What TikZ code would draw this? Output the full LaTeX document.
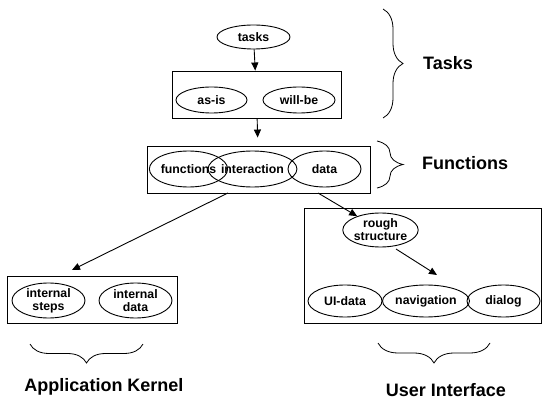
\documentclass[tikz,border=0pt]{standalone}
\usepackage{fontspec}
\setmainfont{Liberation Sans}
\usetikzlibrary{shapes.geometric,arrows.meta,decorations.pathreplacing}
\begin{document}
\begin{tikzpicture}[x=1pt,y=-1pt,
  every node/.style={font=\bfseries\fontsize{12.3}{13}\selectfont},
  ell/.style={draw,ellipse,inner sep=0pt,line width=0.9pt,align=center},
  boxx/.style={draw,rectangle,inner sep=0pt,line width=0.9pt},
  arr/.style={-{Triangle[length=8pt,width=7pt]},line width=0.9pt},
  brc/.style={decorate,line width=0.8pt},
  big/.style={font=\bfseries\fontsize{18}{21}\selectfont}
]
\useasboundingbox (0,0) rectangle (544,401);
% boxes
\node[boxx,minimum width=169pt,minimum height=47pt] (box1) at (256.5,94.5) {};
\node[boxx,minimum width=223pt,minimum height=47pt] (box2) at (258.5,169.5) {};
\node[boxx,minimum width=170pt,minimum height=47pt] (box3) at (92,299.5) {};
\node[boxx,minimum width=237pt,minimum height=115pt] (box4) at (422.5,265.5) {};
% ellipses
\node[ell,minimum width=73pt,minimum height=24pt] (tasks) at (253.5,37) {tasks};
\node[ell,minimum width=71pt,minimum height=26pt] (asis) at (211.5,100) {as-is};
\node[ell,minimum width=72pt,minimum height=26pt] (willbe) at (299,100) {will-be};
\node[ell,minimum width=77pt,minimum height=36pt] (functions) at (188.5,169) {functions};
\node[ell,minimum width=71pt,minimum height=36pt] (interaction) at (252.5,169) {interaction};
\node[ell,minimum width=73pt,minimum height=36pt] (data) at (324.5,169) {data};
\node[ell,minimum width=73pt,minimum height=35pt] (isteps) at (48.5,300.5) {internal\\steps};
\node[ell,minimum width=73pt,minimum height=35pt] (idata) at (135.5,300.5) {internal\\data};
\node[ell,minimum width=73pt,minimum height=34pt] (rough) at (380.5,230) {rough\\structure};
\node[ell,minimum width=74pt,minimum height=32pt] (uidata) at (345,301) {UI-data};
\node[ell,minimum width=72pt,minimum height=32pt] (nav) at (426,301) {navigation};
\node[ell,minimum width=73pt,minimum height=32pt] (dialog) at (503.5,301) {dialog};
% connector ends
\coordinate (a1) at (228,193);
\coordinate (t1) at (72,270);
\coordinate (a2) at (318,193);
\coordinate (s3) at (396,249);
\coordinate (t3) at (437,275);
% arrows
\draw[arr] (tasks) -- (box1);
\draw[arr,shorten >=8pt] (box1) -- (box2);
\draw[arr] (a1) -- (t1);
\draw[arr] (a2) -- (rough);
\draw[arr] (s3) -- (t3);
% braces
\coordinate (bt1) at (383,9);
\coordinate (bt2) at (383,118);
\coordinate (bf1) at (377,141);
\coordinate (bf2) at (377,188);
\coordinate (bk1) at (143,344);
\coordinate (bk2) at (30,344);
\coordinate (bu1) at (490,343);
\coordinate (bu2) at (378,343);
\draw[brc,decoration={brace,amplitude=20pt}] (bt1) -- (bt2);
\draw[brc,decoration={brace,amplitude=26pt}] (bf1) -- (bf2);
\draw[brc,decoration={brace,amplitude=19pt}] (bk1) -- (bk2);
\draw[brc,decoration={brace,amplitude=20pt}] (bu1) -- (bu2);
% labels
\node[big] (ltasks) at (448,63) {Tasks};
\node[big] (lfunc) at (465,163) {Functions};
\node[big] (lkern) at (104,387) {Application Kernel};
\node[big] (lui) at (446,390) {User Interface};
\end{tikzpicture}
\end{document}
